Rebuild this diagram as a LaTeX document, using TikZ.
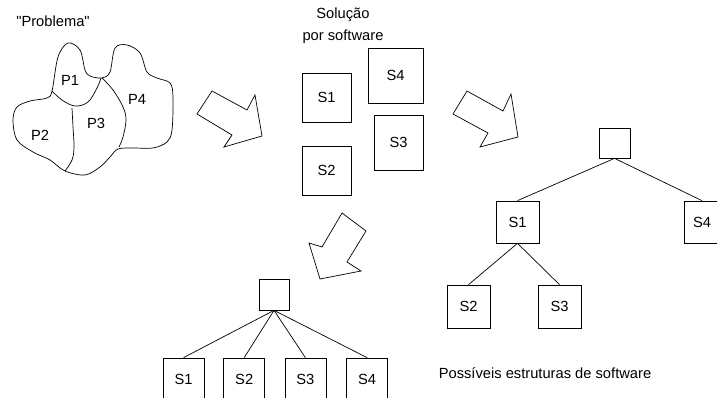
\documentclass[tikz,border=0pt]{standalone}
\usepackage{fontspec}
\setmainfont{Liberation Sans}
\usepackage{tikz}
\usetikzlibrary{positioning}

\begin{document}
\begin{tikzpicture}[x=1pt, y=-1pt, line width=0.7pt,
    every node/.style={font=\fontsize{14.7}{22}\selectfont},
    modulo/.style={draw=black, inner sep=0pt, minimum width=#1},
    modulo/.default=43pt,
    seta/.style={draw=black, line join=miter}]
            \useasboundingbox (0,0) rectangle (717,398);
            \clip (0,0) rectangle (717,398);

            % problema e suas partes
            \node (problema) at (53,21) {\textquotedbl Problema\textquotedbl};
            \draw plot[smooth cycle, tension=0.55] coordinates {(52,91) (58,57) (68,43) (80,50) (85,70) (90,76) (102,78) (110,72) (115,48) (127,45) (140,53) (147,72) (157,78) (170,83) (173,97) (172,130) (167,142) (153,148) (133,148) (118,149) (110,157) (100,167) (85,175) (65,171) (50,160) (33,152) (17,140) (13,120) (17,107) (30,101) (47,98)};
            \draw plot[smooth, tension=0.6] coordinates {(52,91) (62,100) (75,106) (88,102) (97,88) (101,78)};
            \draw plot[smooth, tension=0.6] coordinates {(102,78) (113,90) (123,107) (126,120) (123,137) (119,147)};
            \draw plot[smooth, tension=0.6] coordinates {(72,108) (73,127) (74,147) (72,160) (65,171)};
            \node (p1) at (70,80) {P1};
            \node (p2) at (40,135) {P2};
            \node (p3) at (96,123) {P3};
            \node (p4) at (137,99) {P4};

            % setas de passagem
            \draw [seta] (197,114) -- (212,91) -- (247,110) -- (255,95) -- (262,136) -- (224,147) -- (232,135) -- cycle;
            \draw [seta] (453,114) -- (467,91) -- (503,111) -- (511,94) -- (518,137) -- (480,147) -- (488,133) -- cycle;
            \draw [seta] (342,213) -- (322,247) -- (309,243) -- (320,279) -- (361,271) -- (347,262) -- (366,231) -- cycle;

            % solucao por software
            \node [align=center] (solucao) at (343,26) {Solução\\por software};
            \node [modulo=49pt, minimum height=49pt] (s1) at (326.5,97.5) {S1};
            \node [modulo=49pt, minimum height=49pt] (s2) at (326.5,170.5) {S2};
            \node [modulo=49pt, minimum height=55pt] (s3) at (398.5,142.5) {S3};
            \node [modulo=55pt, minimum height=55pt] (s4) at (395.5,75.5) {S4};

            % estrutura hierarquica
            \node [modulo=31pt, minimum height=30pt] (raiz) at (614.5,143) {};
            \node [modulo, minimum height=42pt] (hs1) at (517.5,222) {S1};
            \node [modulo=36pt, minimum height=42pt] (hs4) at (702,222) {S4};
            \node [modulo, minimum height=43pt] (hs2) at (468.5,306.5) {S2};
            \node [modulo, minimum height=43pt] (hs3) at (559.5,306.5) {S3};
            \draw (raiz.south) -- (hs1.north);
            \draw (raiz.south) -- (hs4.north);
            \draw (hs1.south) -- (hs2.north);
            \draw (hs1.south) -- (hs3.north);

            % estrutura plana
            \node [modulo=30pt, minimum height=31pt] (praiz) at (274,294.5) {};
            \node [modulo=41pt, minimum height=42pt] (ps1) at (183.5,379) {S1};
            \node [modulo=41pt, minimum height=42pt, right=19pt of ps1] (ps2) {S2};
            \node [modulo=41pt, minimum height=42pt, right=19.5pt of ps2] (ps3) {S3};
            \node [modulo=41pt, minimum height=42pt, right=20pt of ps3] (ps4) {S4};
            \foreach \s in {ps1,ps2,ps3,ps4}
                \draw (praiz.south) -- (\s.north);

            \node (possiveis) at (545,373) {Possíveis estruturas de software};
\end{tikzpicture}
\end{document}
